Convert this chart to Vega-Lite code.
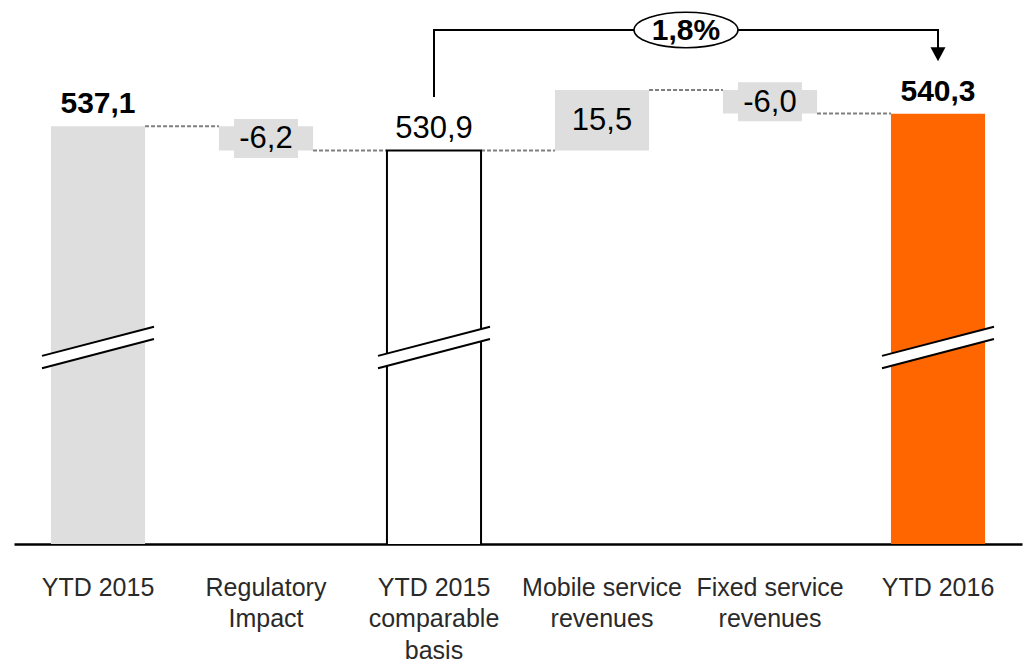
{
  "$schema": "https://vega.github.io/schema/vega-lite/v6.json",
  "width": 1008,
  "height": 544,
  "autosize": {"type": "none"},
  "padding": {"left": 14, "top": 0, "right": 3, "bottom": 118},
  "background": "#ffffff",
  "config": {"view": {"stroke": null}, "font": "Liberation Sans"},
  "datasets": {
    "steps": [
      {"cat": "YTD 2015", "start": 0, "end": 537.1, "kind": "total", "label": "537,1"},
      {"cat": "Regulatory Impact", "start": 537.1, "end": 530.9, "kind": "delta", "label": "-6,2"},
      {"cat": "YTD 2015 comparable basis", "start": 0, "end": 530.9, "kind": "base", "label": "530,9"},
      {"cat": "Mobile service revenues", "start": 530.9, "end": 546.4, "kind": "delta", "label": "15,5"},
      {"cat": "Fixed service revenues", "start": 546.4, "end": 540.4, "kind": "delta", "label": "-6,0"},
      {"cat": "YTD 2016", "start": 0, "end": 540.3, "kind": "current", "label": "540,3"}
    ],
    "links": [
      {"cat": "YTD 2015", "to": "Regulatory Impact", "level": 537.1},
      {"cat": "Regulatory Impact", "to": "YTD 2015 comparable basis", "level": 530.9},
      {"cat": "YTD 2015 comparable basis", "to": "Mobile service revenues", "level": 530.9},
      {"cat": "Mobile service revenues", "to": "Fixed service revenues", "level": 546.4},
      {"cat": "Fixed service revenues", "to": "YTD 2016", "level": 540.4}
    ],
    "bracket": [
      {"cat": "YTD 2015 comparable basis", "v": 544.6, "step": 1},
      {"cat": "YTD 2015 comparable basis", "v": 561.8, "step": 2},
      {"cat": "YTD 2016", "v": 561.8, "step": 3},
      {"cat": "YTD 2016", "v": 555.6, "step": 4}
    ],
    "growth": [
      {"cat": "Mobile service revenues", "v": 561.8, "label": "1,8%"}
    ]
  },
  "encoding": {
    "x": {
      "field": "cat",
      "type": "nominal",
      "title": null,
      "scale": {
        "domain": ["YTD 2015", "Regulatory Impact", "YTD 2015 comparable basis", "Mobile service revenues", "Fixed service revenues", "YTD 2016"],
        "paddingInner": 0,
        "paddingOuter": 0
      },
      "axis": {
        "orient": "bottom",
        "domainColor": "#000000",
        "domainWidth": 2.5,
        "ticks": false,
        "grid": false,
        "labelAngle": 0,
        "labelFontSize": 25,
        "labelColor": "#2a2a2a",
        "labelBaseline": "top",
        "labelPadding": 31,
        "labelLineHeight": 31.5,
        "labelLimit": 0,
        "labelOverlap": false,
        "labelBound": false,
        "labelExpr": "datum.value == 'Regulatory Impact' ? ['Regulatory', 'Impact'] : datum.value == 'YTD 2015 comparable basis' ? ['YTD 2015', 'comparable', 'basis'] : datum.value == 'Mobile service revenues' ? ['Mobile service', 'revenues'] : datum.value == 'Fixed service revenues' ? ['Fixed service', 'revenues'] : datum.value"
      }
    }
  },
  "layer": [
    {
      "data": {"name": "links"},
      "mark": {"type": "rule", "color": "#7f7f7f", "strokeDash": [4, 2], "strokeWidth": 2},
      "encoding": {
        "x": {"field": "cat", "type": "nominal", "bandPosition": 0.78},
        "x2": {"field": "to", "bandPosition": 0.22},
        "y": {"field": "level", "type": "quantitative", "axis": null, "scale": {"domain": [430, 569.5], "zero": false, "nice": false}}
      }
    },
    {
      "data": {"name": "steps"},
      "mark": {"type": "bar", "width": {"band": 0.56}, "clip": true, "stroke": "#000000"},
      "encoding": {
        "y": {"field": "start", "type": "quantitative", "axis": null, "scale": {"domain": [430, 569.5], "zero": false, "nice": false}},
        "y2": {"field": "end"},
        "fill": {
          "field": "kind",
          "type": "nominal",
          "legend": null,
          "scale": {"domain": ["total", "delta", "base", "current"], "range": ["#dedede", "#dedede", "#ffffff", "#ff6600"]}
        },
        "strokeWidth": {"condition": {"test": "datum.kind == 'base'", "value": 2}, "value": 0}
      }
    },
    {
      "data": {"name": "steps"},
      "transform": [{"filter": "datum.kind != 'delta'"}],
      "mark": {"type": "point", "shape": "M-1,0.15L1,-0.37L1,-0.15L-1,0.37Z", "size": 12544, "filled": true, "fill": "#ffffff", "strokeWidth": 0, "opacity": 1},
      "encoding": {"y": {"datum": 480.4, "type": "quantitative"}}
    },
    {
      "data": {"name": "steps"},
      "transform": [{"filter": "datum.kind != 'delta'"}],
      "mark": {"type": "point", "shape": "M-1,0.15L1,-0.37M-1,0.37L1,-0.15", "size": 12544, "filled": false, "stroke": "#000000", "strokeWidth": 2, "opacity": 1},
      "encoding": {"y": {"datum": 480.4, "type": "quantitative"}}
    },
    {
      "data": {"name": "steps"},
      "transform": [
        {"filter": "datum.kind == 'delta'"},
        {"fold": ["start", "end"], "as": ["edge", "v"]}
      ],
      "mark": {"type": "point", "shape": "M-1,-0.61L1,-0.61L1,0.61L-1,0.61Z", "size": 4096, "filled": true, "fill": "#dedede", "strokeWidth": 0, "opacity": 1},
      "encoding": {"y": {"aggregate": "mean", "field": "v", "type": "quantitative"}}
    },
    {
      "data": {"name": "steps"},
      "transform": [
        {"filter": "datum.kind == 'delta'"},
        {"fold": ["start", "end"], "as": ["edge", "v"]}
      ],
      "mark": {"type": "text", "fontSize": 31, "color": "#000000", "baseline": "middle", "dy": 1},
      "encoding": {
        "y": {"aggregate": "mean", "field": "v", "type": "quantitative"},
        "text": {"field": "label"}
      }
    },
    {
      "data": {"name": "steps"},
      "transform": [{"filter": "datum.kind == 'total' || datum.kind == 'current'"}],
      "mark": {"type": "text", "fontSize": 30, "fontWeight": "bold", "color": "#000000", "baseline": "alphabetic", "dy": -13},
      "encoding": {
        "y": {"field": "end", "type": "quantitative"},
        "text": {"field": "label"}
      }
    },
    {
      "data": {"name": "steps"},
      "transform": [{"filter": "datum.kind == 'base'"}],
      "mark": {"type": "text", "fontSize": 31, "color": "#000000", "baseline": "alphabetic", "dy": -13},
      "encoding": {
        "y": {"field": "end", "type": "quantitative"},
        "text": {"field": "label"}
      }
    },
    {
      "data": {"name": "bracket"},
      "mark": {"type": "line", "color": "#000000", "strokeWidth": 2},
      "encoding": {
        "y": {"field": "v", "type": "quantitative"},
        "order": {"field": "step", "type": "quantitative"}
      }
    },
    {
      "data": {"name": "bracket"},
      "transform": [{"filter": "datum.step == 4"}],
      "mark": {"type": "point", "shape": "M-1,-0.93L1,-0.93L0,0.93Z", "size": 225, "filled": true, "fill": "#000000", "strokeWidth": 0, "opacity": 1},
      "encoding": {"y": {"field": "v", "type": "quantitative"}}
    },
    {
      "data": {"name": "growth"},
      "mark": {"type": "point", "shape": "M-1,0A1,0.34,0,1,0,1,0A1,0.34,0,1,0,-1,0Z", "size": 10816, "filled": true, "fill": "#ffffff", "stroke": "#000000", "strokeWidth": 1.5, "opacity": 1},
      "encoding": {
        "x": {"field": "cat", "type": "nominal", "bandPosition": 1},
        "y": {"field": "v", "type": "quantitative"}
      }
    },
    {
      "data": {"name": "growth"},
      "mark": {"type": "text", "fontSize": 30, "fontWeight": "bold", "color": "#000000", "baseline": "middle", "dy": 1},
      "encoding": {
        "x": {"field": "cat", "type": "nominal", "bandPosition": 1},
        "y": {"field": "v", "type": "quantitative"},
        "text": {"field": "label"}
      }
    }
  ]
}
